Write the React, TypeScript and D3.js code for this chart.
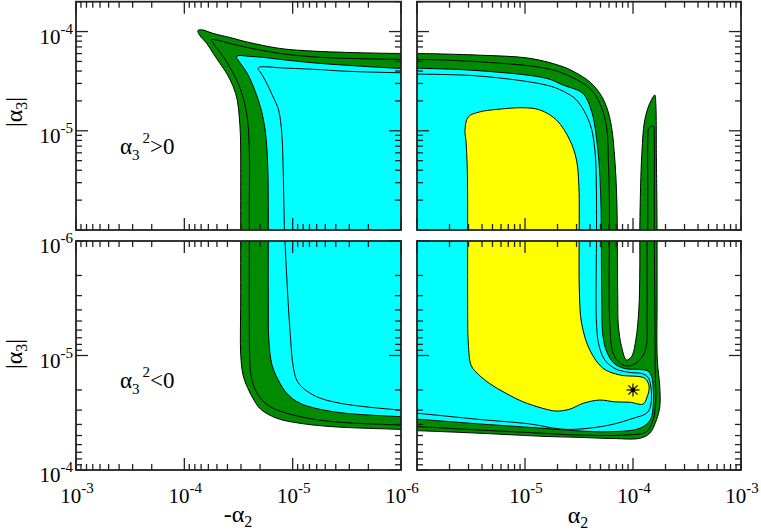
import React from 'react';
import * as d3 from 'd3';

// every contour point is [log10 |alpha2|, log10 |alpha3|]
type Pt = [number, number];

const W = 761;
const H = 531;
const GREEN = '#008b00';
const CYAN = '#00ffff';
const YELLOW = '#ffff00';
const FONT = 'Liberation Serif, Times New Roman, serif';

// ---------- top-left panel (alpha2 < 0, alpha3^2 > 0) ----------
const TL_G1: Pt[] = [
  [-6.4, -4.221], [-6.1, -4.221], [-5.99, -4.221], [-5.5, -4.21], [-5.19, -4.197], [-4.88, -4.17],
  [-4.576, -4.104], [-4.421, -4.06], [-4.267, -4.019], [-4.16, -3.982], [-4.125, -3.99], [-4.14, -4.035],
  [-4.207, -4.12], [-4.267, -4.22], [-4.329, -4.321], [-4.391, -4.422], [-4.452, -4.557], [-4.489, -4.691],
  [-4.507, -4.859], [-4.517, -5.026], [-4.52, -5.194], [-4.52, -5.7], [-4.52, -6.1], [-4.52, -6.4], [-6.4, -6.4],
];
const TL_G2: Pt[] = [
  [-6.4, -4.28], [-6.1, -4.28], [-5.99, -4.28], [-5.5, -4.27], [-5.19, -4.255], [-4.88, -4.22],
  [-4.58, -4.16], [-4.42, -4.12], [-4.29, -4.083], [-4.25, -4.082], [-4.262, -4.11], [-4.36, -4.255],
  [-4.47, -4.46], [-4.53, -4.62], [-4.58, -4.86], [-4.6, -5.19], [-4.6, -5.7], [-4.6, -6.1], [-4.6, -6.4], [-6.4, -6.4],
];
const TL_C1: Pt[] = [
  [-6.4, -4.37], [-6.1, -4.37], [-5.99, -4.37], [-5.5, -4.34], [-5.19, -4.315], [-4.88, -4.28],
  [-4.73, -4.26], [-4.6, -4.25], [-4.495, -4.243], [-4.48, -4.257], [-4.505, -4.3], [-4.58, -4.42],
  [-4.65, -4.59], [-4.71, -4.79], [-4.75, -5.03], [-4.77, -5.36], [-4.775, -5.8], [-4.775, -6.1], [-4.775, -6.4], [-6.4, -6.4],
];
const TL_C2: Pt[] = [
  [-6.4, -4.415], [-6.1, -4.415], [-5.99, -4.415], [-5.5, -4.4], [-5.19, -4.38], [-4.88, -4.365],
  [-4.76, -4.355], [-4.69, -4.36], [-4.68, -4.378], [-4.7, -4.405], [-4.76, -4.52], [-4.82, -4.66],
  [-4.87, -4.79], [-4.9, -5.03], [-4.91, -5.3], [-4.92, -5.8], [-4.925, -6.1], [-4.925, -6.4], [-6.4, -6.4],
];

// ---------- top-right panel (alpha2 > 0, alpha3^2 > 0) ----------
const TR_G1: Pt[] = [
  [-6.4, -4.221], [-6.1, -4.221], [-6.0, -4.221], [-5.417, -4.238], [-4.955, -4.27], [-4.647, -4.355],
  [-4.538, -4.41], [-4.4, -4.507], [-4.307, -4.623], [-4.245, -4.758], [-4.199, -4.96], [-4.168, -5.295],
  [-4.152, -5.63], [-4.145, -6.0], [-4.145, -6.1], [-4.145, -6.4], [-6.4, -6.4],
];
const TR_S1: Pt[] = [
  [-3.937, -6.4], [-3.937, -6.1], [-3.937, -6.0], [-3.921, -5.295], [-3.891, -4.892], [-3.845, -4.724],
  [-3.798, -4.64], [-3.789, -4.724], [-3.783, -5.295], [-3.777, -6.0], [-3.777, -6.1], [-3.777, -6.4],
];
const TR_G2: Pt[] = [
  [-6.4, -4.28], [-6.1, -4.28], [-6.0, -4.28], [-5.417, -4.305], [-4.8, -4.372], [-4.585, -4.45],
  [-4.4, -4.573], [-4.307, -4.724], [-4.245, -4.96], [-4.228, -5.295], [-4.219, -5.7], [-4.219, -6.1],
  [-4.219, -6.4], [-6.4, -6.4],
];
const TR_S2: Pt[] = [
  [-3.863, -6.4], [-3.863, -6.1], [-3.863, -5.6], [-3.862, -5.05], [-3.855, -4.975], [-3.812, -4.953],
  [-3.804, -5.05], [-3.803, -5.6], [-3.803, -6.1], [-3.803, -6.4],
];
const TR_C1: Pt[] = [
  [-6.4, -4.37], [-6.1, -4.37], [-6.0, -4.37], [-5.417, -4.395], [-4.8, -4.472], [-4.647, -4.54],
  [-4.464, -4.623], [-4.381, -4.812], [-4.344, -5.023], [-4.316, -5.295], [-4.298, -5.698], [-4.293, -6.1],
  [-4.293, -6.4], [-6.4, -6.4],
];
const TR_C2: Pt[] = [
  [-6.4, -4.429], [-6.1, -4.429], [-6.0, -4.429], [-5.417, -4.449], [-4.8, -4.54], [-4.649, -4.6],
  [-4.523, -4.69], [-4.4, -4.925], [-4.353, -5.194], [-4.339, -5.597], [-4.338, -6.1], [-4.338, -6.4], [-6.4, -6.4],
];
const TR_Y: Pt[] = [
  [-5.531, -6.4], [-5.531, -6.1], [-5.531, -5.7], [-5.535, -5.363], [-5.547, -5.094], [-5.556, -5.0],
  [-5.525, -4.86], [-5.417, -4.809], [-5.263, -4.785], [-5.017, -4.768], [-4.862, -4.79], [-4.708, -4.892],
  [-4.585, -5.094], [-4.523, -5.295], [-4.501, -5.564], [-4.499, -6.1], [-4.499, -6.4],
];

// ---------- bottom-left panel (alpha2 < 0, alpha3^2 < 0) ----------
const BL_G1: Pt[] = [
  [-4.52, -6.4], [-4.52, -6.1], [-4.52, -5.485], [-4.521, -5.0], [-4.542, -4.83], [-4.583, -4.72],
  [-4.643, -4.61], [-4.705, -4.53], [-4.853, -4.452], [-5.068, -4.408], [-5.375, -4.378], [-5.991, -4.355],
  [-6.1, -4.352], [-6.4, -4.35], [-6.4, -6.4],
];
const BL_G2: Pt[] = [
  [-4.6, -6.4], [-4.6, -6.1], [-4.6, -5.485], [-4.603, -5.0], [-4.615, -4.83], [-4.652, -4.707],
  [-4.717, -4.611], [-4.821, -4.539], [-5.068, -4.466], [-5.375, -4.422], [-5.991, -4.393], [-6.1, -4.39],
  [-6.4, -4.39], [-6.4, -6.4],
];
const BL_C1: Pt[] = [
  [-4.775, -6.4], [-4.775, -6.1], [-4.775, -5.485], [-4.78, -5.135], [-4.809, -4.917], [-4.867, -4.786],
  [-4.945, -4.67], [-5.068, -4.583], [-5.375, -4.509], [-5.991, -4.466], [-6.1, -4.463], [-6.4, -4.46], [-6.4, -6.4],
];
const BL_C2: Pt[] = [
  [-4.925, -6.4], [-4.925, -6.1], [-4.929, -6.0], [-4.957, -5.485], [-4.975, -5.223], [-5.003, -4.917],
  [-5.037, -4.786], [-5.098, -4.714], [-5.222, -4.64], [-5.437, -4.583], [-5.991, -4.524], [-6.1, -4.52],
  [-6.4, -4.52], [-6.4, -6.4],
];

// ---------- bottom-right panel (alpha2 > 0, alpha3^2 < 0) ----------
const BR_G1: Pt[] = [
  [-6.4, -6.4], [-4.145, -6.4], [-4.145, -6.1], [-4.145, -6.0], [-4.141, -5.485], [-4.136, -5.266],
  [-4.106, -5.077], [-4.06, -4.961], [-4.014, -4.99], [-3.974, -5.135], [-3.946, -5.397], [-3.937, -5.747],
  [-3.937, -6.0], [-3.937, -6.1], [-3.937, -6.4], [-3.777, -6.4], [-3.777, -6.1], [-3.777, -6.0],
  [-3.777, -5.485], [-3.775, -4.961], [-3.752, -4.727], [-3.752, -4.553], [-3.783, -4.437], [-3.845, -4.321],
  [-3.937, -4.277], [-4.184, -4.275], [-4.529, -4.286], [-4.8, -4.293], [-5.417, -4.321], [-6.0, -4.343],
  [-6.1, -4.344], [-6.4, -4.344],
];
const BR_G2: Pt[] = [
  [-6.4, -6.4], [-4.219, -6.4], [-4.219, -6.1], [-4.219, -6.0], [-4.215, -5.281], [-4.184, -5.019],
  [-4.122, -4.934], [-4.06, -4.908], [-3.983, -4.926], [-3.909, -4.996], [-3.875, -5.092], [-3.87, -5.31],
  [-3.87, -6.0], [-3.87, -6.1], [-3.87, -6.4], [-3.803, -6.4], [-3.803, -6.1], [-3.803, -6.0],
  [-3.798, -5.485], [-3.794, -4.847], [-3.789, -4.611], [-3.814, -4.437], [-3.875, -4.334], [-4.06, -4.306],
  [-4.529, -4.306], [-4.8, -4.319], [-5.417, -4.349], [-6.0, -4.378], [-6.1, -4.38], [-6.4, -4.38],
];
const BR_C1: Pt[] = [
  [-6.4, -6.4], [-4.293, -6.4], [-4.293, -6.1], [-4.293, -6.0], [-4.289, -5.485], [-4.279, -5.179],
  [-4.242, -5.031], [-4.178, -4.934], [-4.076, -4.886], [-3.937, -4.878], [-3.863, -4.865], [-3.826, -4.812],
  [-3.812, -4.699], [-3.812, -4.568], [-3.84, -4.437], [-3.937, -4.364], [-4.215, -4.334], [-4.529, -4.343],
  [-4.8, -4.362], [-5.417, -4.402], [-6.0, -4.443], [-6.1, -4.446], [-6.4, -4.446],
];
const BR_C2: Pt[] = [
  [-6.4, -6.4], [-4.338, -6.4], [-4.338, -6.1], [-4.338, -6.0], [-4.338, -5.284], [-4.316, -5.092],
  [-4.261, -4.961], [-4.159, -4.882], [-4.03, -4.852], [-3.919, -4.843], [-3.863, -4.812], [-3.835, -4.734],
  [-3.835, -4.568], [-3.872, -4.498], [-4.0, -4.451], [-4.215, -4.393], [-4.492, -4.358], [-4.677, -4.358],
  [-4.955, -4.402], [-5.417, -4.441], [-6.0, -4.495], [-6.1, -4.5], [-6.4, -4.5],
];
const BR_Y: Pt[] = [
  [-5.531, -6.4], [-5.531, -6.1], [-5.531, -6.0], [-5.531, -5.485], [-5.525, -5.107], [-5.5, -4.917],
  [-5.454, -4.856], [-5.331, -4.757], [-5.177, -4.67], [-5.022, -4.597], [-4.837, -4.539], [-4.714, -4.515],
  [-4.59, -4.53], [-4.46, -4.583], [-4.307, -4.611], [-4.168, -4.595], [-4.03, -4.592], [-3.907, -4.576],
  [-3.87, -4.638], [-3.851, -4.728], [-3.891, -4.801], [-4.122, -4.83], [-4.277, -4.888], [-4.4, -5.048],
  [-4.476, -5.281], [-4.497, -5.572], [-4.499, -6.0], [-4.499, -6.1], [-4.499, -6.4],
];

// best-fit point (alpha2, |alpha3|), bottom-right panel
const STAR: [number, number][] = [[1e-4, 2e-5]];

// tick labels [value, exponent text]
const LEFT_X_LABELS: [number, string][] = [[1e-3, '-3'], [1e-4, '-4'], [1e-5, '-5'], [1e-6, '-6']];
const RIGHT_X_LABELS: [number, string][] = [[1e-5, '-5'], [1e-4, '-4'], [1e-3, '-3']];
const TOP_Y_LABELS: [number, string][] = [[1e-4, '-4'], [1e-5, '-5']];
const BOT_Y_LABELS: [number, string][] = [[1e-6, '-6'], [1e-5, '-5'], [1e-4, '-4']];

const xLeft = d3.scaleLog().domain([1e-3, 1e-6]).range([76, 401]);
const xRight = d3.scaleLog().domain([1e-6, 1e-3]).range([417, 741]);
const yTop = d3.scaleLog().domain([1e-6, 2e-4]).range([230, 1.7]);
const yBot = d3.scaleLog().domain([1e-6, 1e-4]).range([241, 470]);

function logTicks(lo: number, hi: number) {
  const out: { v: number; major: boolean }[] = [];
  for (let e = -7; e <= -3; e++) {
    for (let m = 1; m <= 9; m++) {
      const v = m * Math.pow(10, e);
      if (v >= lo * 0.999 && v <= hi * 1.001) out.push({ v, major: m === 1 });
    }
  }
  return out;
}

type Panel = {
  id: string;
  xs: d3.ScaleLogarithmic<number, number>;
  ys: d3.ScaleLogarithmic<number, number>;
  layers: [Pt[], string][];
  stars?: [number, number][];
};

const PANELS: Panel[] = [
  { id: 'tl', xs: xLeft, ys: yTop, layers: [[TL_G1, GREEN], [TL_G2, GREEN], [TL_C1, CYAN], [TL_C2, CYAN]] },
  {
    id: 'tr', xs: xRight, ys: yTop,
    layers: [[TR_G1, GREEN], [TR_S1, GREEN], [TR_G2, GREEN], [TR_S2, GREEN], [TR_C1, CYAN], [TR_C2, CYAN], [TR_Y, YELLOW]],
  },
  { id: 'bl', xs: xLeft, ys: yBot, layers: [[BL_G1, GREEN], [BL_G2, GREEN], [BL_C1, CYAN], [BL_C2, CYAN]] },
  {
    id: 'br', xs: xRight, ys: yBot,
    layers: [[BR_G1, GREEN], [BR_G2, GREEN], [BR_C1, CYAN], [BR_C2, CYAN], [BR_Y, YELLOW]],
    stars: STAR,
  },
];

const FRAME = '#222';
const MAJOR = 12;
const MINOR = 6;

function PanelView({ p }: { p: Panel }) {
  const [xa, xb] = p.xs.range();
  const [ya, yb] = p.ys.range();
  const x0 = Math.min(xa, xb), x1 = Math.max(xa, xb);
  const y0 = Math.min(ya, yb), y1 = Math.max(ya, yb);
  const xd = p.xs.domain();
  const yd = p.ys.domain();
  const xt = logTicks(Math.min(xd[0], xd[1]), Math.max(xd[0], xd[1]));
  const yt = logTicks(Math.min(yd[0], yd[1]), Math.max(yd[0], yd[1]));
  const line = d3
    .line<Pt>()
    .x((d) => p.xs(Math.pow(10, d[0])))
    .y((d) => p.ys(Math.pow(10, d[1])))
    .curve(d3.curveCatmullRom.alpha(0.5));
  return (
    <g>
      <clipPath id={'clip-' + p.id}>
        <rect x={x0} y={y0} width={x1 - x0} height={y1 - y0} />
      </clipPath>
      <g clipPath={`url(#clip-${p.id})`}>
        {p.layers.map(([pts, fill], i) => (
          <path key={i} d={(line(pts) || '') + 'Z'} fill={fill} stroke="#000" strokeWidth={1} strokeLinejoin="round" />
        ))}
        {(p.stars || []).map(([a, b], i) => {
          const cx = p.xs(a), cy = p.ys(b), r = 6.5;
          return (
            <g key={'s' + i} stroke="#000" strokeWidth={1.2}>
              {[0, 45, 90, 135].map((ang) => {
                const t = (ang * Math.PI) / 180;
                return <line key={ang} x1={cx - r * Math.cos(t)} y1={cy - r * Math.sin(t)} x2={cx + r * Math.cos(t)} y2={cy + r * Math.sin(t)} />;
              })}
              <circle cx={cx} cy={cy} r={1.8} fill="#000" />
            </g>
          );
        })}
      </g>
      <g stroke={FRAME} strokeWidth={1.3}>
        {xt.map((t, i) => {
          const x = p.xs(t.v);
          const L = t.major ? MAJOR : MINOR;
          return (
            <g key={'x' + i}>
              <line x1={x} x2={x} y1={y0} y2={y0 + L} />
              <line x1={x} x2={x} y1={y1} y2={y1 - L} />
            </g>
          );
        })}
        {yt.map((t, i) => {
          const y = p.ys(t.v);
          const L = t.major ? MAJOR : MINOR;
          return (
            <g key={'y' + i}>
              <line x1={x0} x2={x0 + L} y1={y} y2={y} />
              <line x1={x1} x2={x1 - L} y1={y} y2={y} />
            </g>
          );
        })}
      </g>
      <rect x={x0} y={y0} width={x1 - x0} height={y1 - y0} fill="none" stroke={FRAME} strokeWidth={1.8} />
    </g>
  );
}

function Pow({ x, y, e, anchor }: { x: number; y: number; e: string; anchor: string }) {
  return (
    <text x={x} y={y} textAnchor={anchor as any} fontFamily={FONT} fontSize={21} fill="#000">
      10
      <tspan dy={-10} fontSize={15}>{e}</tspan>
    </text>
  );
}

export default function App() {
  return (
    <svg width={W} height={H} style={{ position: 'absolute', left: 0, top: 0, background: '#fff' }}>
      <rect width={W} height={H} fill="#fff" />
      {PANELS.map((p) => (
        <PanelView key={p.id} p={p} />
      ))}
      {LEFT_X_LABELS.map(([v, e]) => (
        <Pow key={'lx' + e} x={xLeft(v) + 1} y={503} e={e} anchor="middle" />
      ))}
      {RIGHT_X_LABELS.map(([v, e]) => (
        <Pow key={'rx' + e} x={xRight(v) + 1} y={503} e={e} anchor="middle" />
      ))}
      {TOP_Y_LABELS.map(([v, e]) => (
        <Pow key={'ty' + e} x={73} y={yTop(v) + 12} e={e} anchor="end" />
      ))}
      {BOT_Y_LABELS.map(([v, e]) => (
        <Pow key={'by' + e} x={73} y={yBot(v) + 12} e={e} anchor="end" />
      ))}
      <text x={238} y={522} textAnchor="middle" fontFamily={FONT} fontSize={24}>
        -α<tspan dy={5} fontSize={16}>2</tspan>
      </text>
      <text x={578} y={523} textAnchor="middle" fontFamily={FONT} fontSize={24}>
        α<tspan dy={5} fontSize={16}>2</tspan>
      </text>
      <text transform="translate(22,112) rotate(-90)" textAnchor="middle" fontFamily={FONT} fontSize={24}>
        |α<tspan dy={5} fontSize={16}>3</tspan><tspan dy={-5}>|</tspan>
      </text>
      <text transform="translate(22,354) rotate(-90)" textAnchor="middle" fontFamily={FONT} fontSize={24}>
        |α<tspan dy={5} fontSize={16}>3</tspan><tspan dy={-5}>|</tspan>
      </text>
      <text x={120} y={154} fontFamily={FONT} fontSize={23}>
        α<tspan dy={6} fontSize={15}>3</tspan>
        <tspan dy={-17} dx={3} fontSize={15}>2</tspan>
        <tspan dy={11}>&gt;0</tspan>
      </text>
      <text x={120} y={388} fontFamily={FONT} fontSize={23}>
        α<tspan dy={6} fontSize={15}>3</tspan>
        <tspan dy={-17} dx={3} fontSize={15}>2</tspan>
        <tspan dy={11}>&lt;0</tspan>
      </text>
    </svg>
  );
}
